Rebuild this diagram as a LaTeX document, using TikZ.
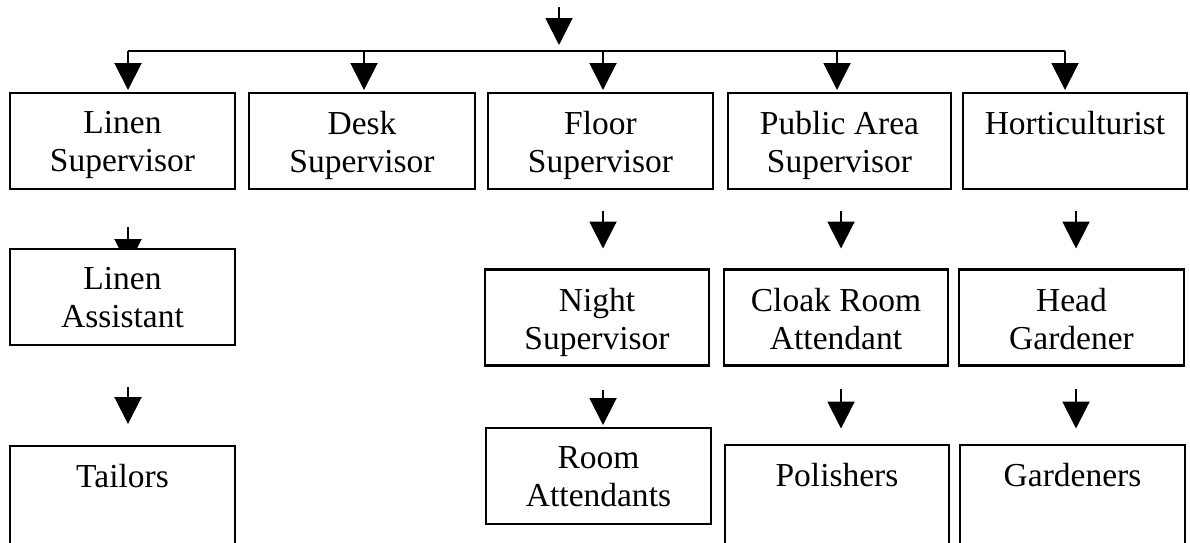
\documentclass[tikz,border=0pt]{standalone}
\usepackage{fontspec}
\setmainfont{Liberation Serif}
\usetikzlibrary{arrows.meta}
\pgfdeclarelayer{bg}
\pgfsetlayers{bg,main}
\newcommand{\bxt}[3]{\parbox[c][#2][t]{#1}{\centering\vspace*{18.5pt}#3\par}}
\tikzset{
  box/.style={draw, line width=2.7pt, fill=white, inner sep=0pt, outer sep=0pt,
    anchor=north west, font=\fontsize{33.5pt}{38pt}\selectfont},
  ln/.style={line width=1.7pt},
  arr/.style={line width=2pt, -{Triangle[width=27pt,length=27pt]}}
}
\begin{document}
\begin{tikzpicture}[x=1pt,y=-1pt]
\useasboundingbox (0,0) rectangle (1190,542);
% row 1
\node[box] (L1) at (10,93)  {\bxt{225pt}{96pt}{Linen\\Supervisor}};
\node[box] (D1) at (249,93) {\bxt{226pt}{96pt}{Desk\\Supervisor}};
\node[box] (F1) at (488,93) {\bxt{225pt}{96pt}{Floor\\Supervisor}};
\node[box] (P1) at (728,93) {\bxt{223pt}{96pt}{Public Area\\Supervisor}};
\node[box] (H1) at (963,93) {\bxt{224pt}{96pt}{Horticulturist}};
% row 2
\node[box] (L2) at (10,249)  {\bxt{225pt}{96pt}{Linen\\Assistant}};
\node[box] (F2) at (485,269.5) {\bxt{224pt}{96pt}{Night\\Supervisor}};
\node[box] (P2) at (724,269.5) {\bxt{224pt}{96pt}{Cloak Room\\Attendant}};
\node[box] (H2) at (959,269.5) {\bxt{225pt}{96pt}{Head\\Gardener}};
% row 3
\node[box] (L3) at (10,446)  {\bxt{225pt}{130pt}{Tailors}};
\node[box] (F3) at (486,428) {\bxt{225pt}{96pt}{Room\\Attendants}};
\node[box] (P3) at (725,445) {\bxt{224pt}{130pt}{Polishers}};
\node[box] (H3) at (960,445) {\bxt{225pt}{130pt}{Gardeners}};
% connectors
\begin{pgfonlayer}{bg}
\fill[white] (0,0) rectangle (1190,542);
\coordinate (t0) at (559,7);
\coordinate (t1) at (559,45);
\draw[arr] (t0) -- (t1);
\coordinate (b1) at (128,51);
\coordinate (b2) at (364,51);
\coordinate (b3) at (603,51);
\coordinate (b4) at (837,51);
\coordinate (b5) at (1065,51);
\draw[ln] (b1) -- (b5);
\foreach \b/\n in {b1/L1,b2/D1,b3/F1,b4/P1,b5/H1}
  \draw[arr, shorten >=3pt] (\b) -- (\b |- \n.north);
% row 2 arrows
\coordinate (s1) at (128,227);
\coordinate (s3) at (603,211);
\coordinate (s4) at (841,211);
\coordinate (s5) at (1076,211);
\draw[arr, shorten >=-17pt] (s1) -- (s1 |- L2.north);
\draw[arr, shorten >=21pt] (s3) -- (s3 |- F2.north);
\draw[arr, shorten >=21pt] (s4) -- (s4 |- P2.north);
\draw[arr, shorten >=21pt] (s5) -- (s5 |- H2.north);
% row 3 arrows
\coordinate (u1) at (128,387);
\coordinate (u3) at (603,390);
\coordinate (u4) at (841,389);
\coordinate (u5) at (1076,389);
\draw[arr, shorten >=22pt] (u1) -- (u1 |- L3.north);
\draw[arr, shorten >=3pt] (u3) -- (u3 |- F3.north);
\draw[arr, shorten >=16.5pt] (u4) -- (u4 |- P3.north);
\draw[arr, shorten >=16.5pt] (u5) -- (u5 |- H3.north);
\end{pgfonlayer}
\end{tikzpicture}
\end{document}
